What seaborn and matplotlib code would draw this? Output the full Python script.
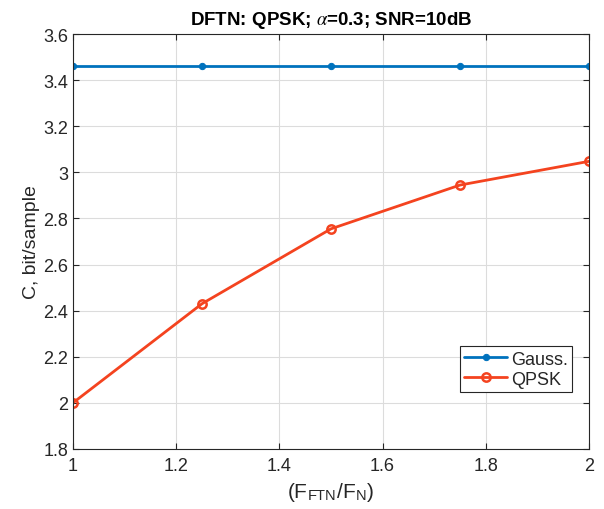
import matplotlib
matplotlib.use("Agg")
import matplotlib.pyplot as plt
import seaborn as sns
import pandas as pd

ratio = [1.0, 1.25, 1.5, 1.75, 2.0]
gauss = [3.46, 3.46, 3.46, 3.46, 3.46]
qpsk = [2.0, 2.43, 2.755, 2.945, 3.048]

sns.set_style("white")
plt.rcParams['font.family'] = ['Liberation Sans', 'DejaVu Sans']
plt.rcParams['mathtext.fontset'] = 'stix'

fig = plt.figure(figsize=(6.04, 5.10), dpi=100)
ax = fig.add_axes([0.121, 0.118, 0.854, 0.813])

df = pd.DataFrame({"x": ratio + ratio, "y": gauss + qpsk,
                   "s": ["Gauss."] * len(ratio) + ["QPSK"] * len(ratio)})
blue = "#0072BD"
red = "#F4431F"
sns.lineplot(data=df[df.s == "Gauss."], x="x", y="y", ax=ax, color=blue, lw=2,
             marker="o", markersize=4.5, markeredgecolor=blue, label="Gauss.")
sns.lineplot(data=df[df.s == "QPSK"], x="x", y="y", ax=ax, color=red, lw=2,
             marker="o", markersize=6, markerfacecolor="none", markeredgecolor=red,
             markeredgewidth=1.8, label="QPSK")

ax.set_xlim(1, 2)
ax.set_ylim(1.8, 3.6)
ax.set_xticks([1, 1.2, 1.4, 1.6, 1.8, 2])
ax.set_xticklabels(["1", "1.2", "1.4", "1.6", "1.8", "2"])
ax.set_yticks([1.8, 2, 2.2, 2.4, 2.6, 2.8, 3, 3.2, 3.4, 3.6])
ax.set_yticklabels(["1.8", "2", "2.2", "2.4", "2.6", "2.8", "3", "3.2", "3.4", "3.6"])
ax.grid(True, color="#dcdcdc", lw=0.8)
for s in ax.spines.values():
    s.set_color("#262626")
    s.set_linewidth(0.8)
ax.tick_params(axis="both", direction="in", length=4, labelsize=13, colors="#262626",
               top=True, right=True, bottom=True, left=True, labelcolor="#262626")
ax.tick_params(axis="x", pad=6)
ax.set_xlabel(r"(F$_{\mathregular{FTN}}$/F$_{\mathregular{N}}$)", fontsize=15,
              color="#262626", labelpad=4)
ax.set_ylabel("C, bit/sample", fontsize=14, color="#262626", labelpad=2)
ax.set_title(r"DFTN: QPSK; $\alpha$=0.3; SNR=10dB", fontsize=13.5, fontweight="bold",
             color="#000000", pad=7)
leg = ax.legend(loc="lower right", bbox_to_anchor=(0.968, 0.137), fontsize=13,
                frameon=True, fancybox=False, framealpha=1, edgecolor="#262626",
                borderpad=0.25, handlelength=2.4, handletextpad=0.2, labelspacing=0.15,
                borderaxespad=0)
leg.get_frame().set_linewidth(0.8)
fig.savefig("out.png", dpi=100)
